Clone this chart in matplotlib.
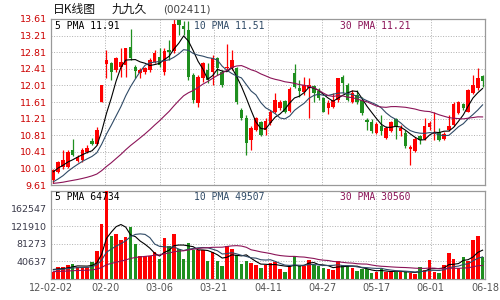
import numpy as np
import pandas as pd
import matplotlib
matplotlib.use('Agg')
import matplotlib.pyplot as plt

## Daily K data for 002411, 2012-02-02 .. 2012-06-18

opens = [9.73, 9.93, 10.05, 10.05, 10.45, 10.20, 10.21, 10.41, 10.67, 10.61,
         11.62, 12.52, 12.54, 12.38, 12.46, 12.50, 12.94, 12.46, 12.30, 12.33,
         12.38, 12.58, 12.70, 12.34, 12.86, 12.84, 13.58, 13.45, 13.34, 12.26,
         11.58, 12.18, 12.38, 12.34, 12.66, 12.34, 12.42, 12.42, 12.42, 11.42,
         11.22, 10.70, 10.94, 11.14, 10.94, 11.10, 11.38, 11.46, 11.63, 11.40,
         12.30, 11.95, 11.84, 11.94, 12.00, 11.87, 11.70, 11.47, 11.50, 11.66,
         12.22, 12.02, 11.60, 11.78, 11.66, 11.18, 11.14, 10.86, 11.02, 10.75,
         10.90, 11.20, 10.90, 10.86, 10.48, 10.43, 10.79, 10.73, 11.00, 10.83,
         10.88, 10.71, 10.94, 11.06, 11.34, 11.55, 11.38, 11.82, 11.94, 12.24]
highs = [10.00, 10.20, 10.45, 10.45, 10.73, 10.33, 10.49, 10.57, 10.75, 11.00,
         12.02, 12.86, 12.58, 12.70, 12.90, 12.92, 13.38, 12.50, 12.42, 12.46,
         12.66, 12.86, 12.90, 12.90, 13.10, 13.61, 13.61, 13.55, 13.55, 12.30,
         12.26, 12.58, 12.54, 12.74, 12.70, 12.38, 13.00, 12.86, 12.46, 11.46,
         11.30, 11.02, 11.26, 11.15, 11.23, 11.42, 11.82, 11.66, 11.66, 11.98,
         12.52, 12.14, 12.22, 12.18, 12.03, 11.94, 11.74, 11.66, 11.82, 12.20,
         12.26, 12.06, 11.90, 11.90, 11.74, 11.23, 11.20, 11.14, 11.30, 11.02,
         11.15, 11.22, 11.06, 10.94, 10.57, 10.77, 10.81, 11.22, 11.15, 11.38,
         10.98, 10.89, 11.30, 11.60, 11.63, 11.58, 11.92, 12.26, 12.42, 12.26]
lows = [9.66, 9.90, 10.00, 10.01, 10.30, 10.17, 10.17, 10.37, 10.57, 10.57,
        11.62, 12.18, 12.14, 12.34, 12.22, 12.22, 12.62, 12.18, 12.18, 12.28,
        12.34, 12.54, 12.46, 12.26, 12.62, 12.78, 13.22, 13.22, 12.14, 11.58,
        11.50, 12.10, 12.06, 12.02, 12.26, 11.98, 12.38, 12.38, 11.55, 11.18,
        10.33, 10.45, 10.90, 10.78, 10.82, 11.06, 11.34, 11.42, 11.34, 11.38,
        11.94, 11.74, 11.78, 11.22, 11.60, 11.66, 11.36, 11.31, 11.46, 11.62,
        11.82, 11.63, 11.58, 11.56, 11.30, 10.94, 10.86, 10.83, 10.82, 10.73,
        10.88, 10.73, 10.78, 10.49, 10.09, 10.41, 10.61, 10.69, 10.94, 10.70,
        10.67, 10.69, 10.90, 11.02, 11.31, 11.42, 11.36, 11.80, 11.90, 11.98]
closes = [9.97, 10.17, 10.21, 10.41, 10.33, 10.29, 10.45, 10.49, 10.61, 10.93,
          12.02, 12.62, 12.34, 12.66, 12.58, 12.90, 12.66, 12.36, 12.38, 12.42,
          12.62, 12.78, 12.50, 12.84, 12.82, 13.50, 13.47, 13.38, 12.22, 11.66,
          12.22, 12.54, 12.14, 12.66, 12.42, 12.02, 12.46, 12.62, 11.60, 11.22,
          10.62, 10.98, 11.22, 10.82, 11.15, 11.38, 11.66, 11.60, 11.38, 11.92,
          11.98, 11.87, 12.03, 12.03, 11.82, 11.70, 11.38, 11.58, 11.66, 12.18,
          12.06, 11.66, 11.82, 11.60, 11.34, 11.14, 10.90, 11.07, 10.91, 10.98,
          11.14, 11.02, 10.98, 10.54, 10.53, 10.73, 10.69, 11.02, 11.10, 10.87,
          10.69, 10.85, 11.04, 11.55, 11.60, 11.46, 11.90, 12.02, 12.18, 12.12]
volumes = [16000, 28000, 28000, 33000, 35000, 27000, 27000, 27000, 40000, 64000,
           127000, 210000, 100000, 103000, 89000, 97000, 120000, 80000, 52000, 52000,
           52000, 62000, 47000, 94000, 77000, 105000, 69000, 47000, 84000, 68000,
           68000, 68000, 41000, 62000, 41000, 30000, 77000, 69000, 56000, 35000,
           42000, 37000, 33000, 25000, 33000, 37500, 39000, 23000, 17000, 27000,
           53000, 30000, 31000, 43000, 33000, 30000, 25000, 23000, 20000, 41000,
           33000, 30000, 25000, 19000, 23000, 23000, 14000, 16000, 22000, 17000,
           17000, 17000, 16000, 16000, 14000, 12500, 27000, 20000, 43000, 17000,
           14000, 33000, 59000, 47000, 25000, 51000, 41000, 90000, 100000, 51000]

# sessions before 02-02, estimated from where the MA lines start on the left edge
warmup_close = [9.80, 9.75, 9.72, 9.70, 9.66, 9.68, 9.64, 9.60, 9.62, 9.58,
                9.60, 9.63, 9.61, 9.57, 9.55, 9.60, 9.62, 9.58, 9.55, 9.54,
                9.50, 9.42, 9.38, 9.45, 9.50, 9.72, 9.88, 10.02, 10.06]
warmup_volume = [14000, 16000, 15500, 13000, 14500, 17000, 15000, 16500, 14000, 13500,
                 15000, 16000, 14500, 15500, 13000, 15000, 16000, 14000, 15500, 16500,
                 19000, 21000, 18500, 20500, 21000, 22000, 25000, 23500, 23500]

date_labels = ['12-02-02', '02-20', '03-06', '03-21', '04-11', '04-27', '05-17', '06-01', '06-18']
price_ticks = [9.61, 10.01, 10.41, 10.81, 11.21, 11.61, 12.01, 12.41, 12.81, 13.21, 13.61]
vol_ticks = [40637, 81273, 121910, 162547]
price_legend = ['5 PMA 11.91', '10 PMA 11.51', '30 PMA 11.21']
vol_legend = ['5 PMA 64734', '10 PMA 49507', '30 PMA 30560']

RED = '#ff0000'
GREEN = '#1f8f1f'
MA_COLORS = ['#000000', '#2f4a66', '#8b1458']
LABEL_FONT = 'DejaVu Sans'


def moving_avg(vals, warm, window):
    s = pd.Series(list(warm) + list(vals))
    return s.rolling(window, min_periods=1).mean().to_numpy()[len(warm):]


o = np.array(opens)
c = np.array(closes)
n = len(c)
x = np.arange(n)
colors = np.where(c >= o, RED, GREEN)
grid_x = -0.5 + np.arange(9) * n / 8

fig = plt.figure(figsize=(5, 3), dpi=100)
ax = fig.add_axes([0.102, 0.3833, 0.868, 0.5534])
axv = fig.add_axes([0.102, 0.07, 0.868, 0.2933])

## price panel
ax.vlines(x, lows, highs, colors=colors, lw=0.9, zorder=2)
body = np.maximum(np.abs(c - o), 0.02)
ax.bar(x, body, bottom=np.minimum(o, c), width=0.72, color=colors, zorder=3)
for w, col in zip([5, 10, 30], MA_COLORS):
    ax.plot(x, moving_avg(closes, warmup_close, w), color=col, lw=0.8, zorder=4)

ax.set_xlim(-0.5, n - 0.5)
ax.set_ylim(price_ticks[0], price_ticks[-1])
ax.set_yticks(price_ticks)
ax.set_yticklabels(['%.2f' % t for t in price_ticks], color='#cc0000',
                   fontsize=6.8, family=LABEL_FONT)
ax.set_xticks(grid_x)
ax.set_xticklabels([])

## volume panel
axv.bar(x, volumes, width=0.72, color=colors, zorder=3)
for w, col in zip([5, 10, 30], MA_COLORS):
    axv.plot(x, moving_avg(volumes, warmup_volume, w), color=col, lw=0.8, zorder=4)

axv.set_xlim(-0.5, n - 0.5)
axv.set_ylim(0, vol_ticks[0] * 5)
axv.set_yticks(vol_ticks)
axv.set_yticklabels([str(v) for v in vol_ticks], color='#3a3a4a',
                    fontsize=6.8, family=LABEL_FONT)
axv.set_xticks(grid_x)
axv.set_xticklabels(date_labels, color='#555555', fontsize=7, family=LABEL_FONT)

for a, legend in [(ax, price_legend), (axv, vol_legend)]:
    a.grid(True, ls=':', color='#b0b0b0', lw=0.7, zorder=0)
    a.tick_params(length=0, pad=3)
    for sp in a.spines.values():
        sp.set_color('#999999')
        sp.set_linewidth(0.9)
    for txt, xpos, col in zip(legend, [0.009, 0.33, 0.666], MA_COLORS):
        a.text(xpos, 0.985, txt, transform=a.transAxes, ha='left', va='top',
               color=col, fontsize=7, family='DejaVu Sans Mono', zorder=5)

# title line
fig.text(53 / 500, 1 - 9.5 / 300, '日K线图', family=['Noto Sans CJK SC', 'DejaVu Sans'],
         fontsize=8.5, va='center', color='#111111')
fig.text(112 / 500, 1 - 9.5 / 300, '九九久', family=['Noto Sans CJK SC', 'DejaVu Sans'],
         fontsize=8.5, va='center', color='#111111')
fig.text(163 / 500, 1 - 9.5 / 300, '(002411)', family=LABEL_FONT,
         fontsize=7.5, va='center', color='#444444')

fig.savefig('out.png', dpi=100)
